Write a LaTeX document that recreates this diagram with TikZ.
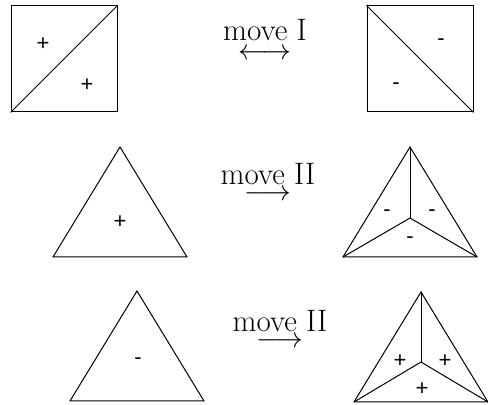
\documentclass[tikz,border=0pt]{standalone}
\usepackage{fontspec}
\usepackage{amsmath}
\usetikzlibrary{positioning}
\newfontfamily\signfont{Liberation Sans}

\begin{document}
\begin{tikzpicture}[
    x=0.5pt, y=-0.5pt,
    face/.style={line width=0.5pt},
    box/.style={draw, line width=0.5pt, minimum size=53pt, inner sep=0pt},
    sign/.style={inner sep=0pt, font=\signfont\fontsize{11}{13}\selectfont},
    movetxt/.style={anchor=base, inner sep=0pt, font=\fontsize{15.5}{18}\selectfont},
    movearr/.style={anchor=base, inner sep=0pt, text height=4pt, text depth=0pt,
                    font=\fontsize{14.4}{17}\selectfont}
]
\useasboundingbox (0,0) rectangle (488,405);
% move I: two squares
\node[box] (sqL) at (64,59) {};
\node[box] (sqR) at (420,59) {};
\draw[face] (sqL.south west) -- (sqL.north east);
\draw[face] (sqR.north west) -- (sqR.south east);
\node[sign] (sL1) at (43,44) {+};
\node[sign] (sL2) at (87,85) {+};
\node[sign] (sR1) at (441,42) {-};
\node[sign] (sR2) at (396,86) {-};
\node[movetxt] (mvA) at (265,41) {move I};
\node[movearr] (arA) at (265,60) {$\longleftrightarrow$};

% move II: triangles
\foreach \t/\x/\y in {A/120/147, B/410/147, C/137/291, D/421/292}{
    \coordinate (t\t top) at (\x,\y);
    \coordinate (t\t l) at ({\x-67},{\y+110});
    \coordinate (t\t r) at ({\x+67},{\y+110});
    \draw[face, line join=miter] (t\t top) -- (t\t l) -- (t\t r) -- cycle;
}
\coordinate (tBmid) at (410,218);
\coordinate (tDmid) at (421,362);
\foreach \t in {B,D}{
    \draw[face] (t\t mid) -- (t\t top);
    \draw[face] (t\t mid) -- (t\t l);
    \draw[face] (t\t mid) -- (t\t r);
}
\node[sign] (sA) at (120,222) {+};
\node[sign] (sB1) at (387,213) {-};
\node[sign] (sB2) at (432,213) {-};
\node[sign] (sB3) at (410,240) {-};
\node[sign] (sC) at (138,361) {-};
\node[sign] (sD1) at (400,361) {+};
\node[sign] (sD2) at (445,361) {+};
\node[sign] (sD3) at (422,389) {+};
\node[movetxt] (mvB) at (268,185) {move II};
\node[movearr] (arB) at (268,201) {$\longrightarrow$};
\node[movetxt] (mvC) at (280,332) {move II};
\node[movearr] (arC) at (280,348) {$\longrightarrow$};
\end{tikzpicture}
\end{document}
